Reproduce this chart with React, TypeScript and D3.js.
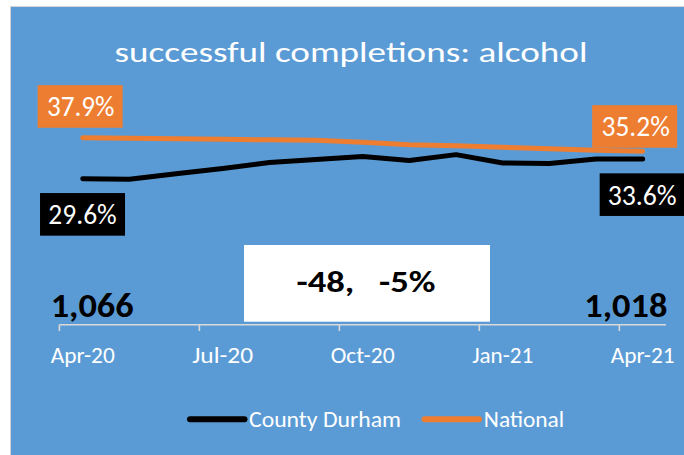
import React from 'react';
import * as d3 from 'd3';

const months = ['Apr-20','May-20','Jun-20','Jul-20','Aug-20','Sep-20','Oct-20','Nov-20','Dec-20','Jan-21','Feb-21','Mar-21','Apr-21'];
const durham = [29.6, 29.5, 30.6, 31.7, 32.9, 33.5, 34.1, 33.3, 34.5, 32.8, 32.7, 33.6, 33.6];
const national = [37.9, 37.8, 37.7, 37.6, 37.5, 37.4, 37.0, 36.5, 36.3, 36.0, 35.7, 35.4, 35.2];
const tickLabels = ['Apr-20', 'Jul-20', 'Oct-20', 'Jan-21', 'Apr-21'];
const seriesNames = ['County Durham', 'National'];
const title = 'successful completions: alcohol';
const startCount = '1,066';
const endCount = '1,018';
const changeText = '-48,   -5%';

const W = 684;
const H = 455;
const BLUE = '#5B9BD5';
const ORANGE = '#ED7D31';
const FONT = 'Carlito, Lato, "Open Sans", sans-serif';

export default function App() {
  const x = d3.scaleBand<string>().domain(months).range([59.4, 666]).padding(0);
  const bw = x.bandwidth();
  const px = (m: string) => (x(m) as number) + bw / 2;
  const y = d3.scaleLinear().domain([0, 50]).range([324.7, 78.2]);

  const line = d3.line<number>()
    .x((_, i) => px(months[i]))
    .y((d) => y(d));

  const n = months.length;
  const x0 = px(months[0]);
  const xN = px(months[n - 1]);

  const fmt = (v: number) => v.toFixed(1) + '%';

  const boxW = 85;
  const boxH = 42.6;

  const labelBox = (cx: number, top: number, fill: string, text: string, tcx: number, baseline: number, tl: number) => (
    <g>
      <rect x={cx - boxW / 2} y={top} width={boxW} height={boxH} fill={fill} />
      <text x={tcx} y={baseline} textAnchor="middle" fill="#fff" fontSize={28} fontFamily={FONT}
        textLength={tl} lengthAdjust="spacingAndGlyphs">{text}</text>
    </g>
  );

  const tickIdx = [0, 3, 6, 9, 12];

  return (
    <div style={{ position: 'fixed', left: 0, top: 0, width: W, height: H, background: '#fff' }}>
      <svg width={W} height={H} style={{ display: 'block' }}>
        <rect x={10.5} y={6.5} width={W} height={H} fill={BLUE} stroke="#D4D4D4" strokeWidth={1} />
        <text x={351} y={61.7} textAnchor="middle" fill="#fff" fontSize={28} fontFamily={FONT}
          textLength={473} lengthAdjust="spacingAndGlyphs">{title}</text>

        {/* axis */}
        <line x1={59.4} x2={666} y1={324.7} y2={324.7} stroke="#D9D9D9" strokeWidth={1.6} />
        {tickIdx.map((i) => (
          <line key={'t' + i} x1={x(months[i]) as number} x2={x(months[i]) as number} y1={324.7} y2={331}
            stroke="#D9D9D9" strokeWidth={1.6} />
        ))}
        {tickLabels.map((t) => (
          <text key={t} x={px(t)} y={363.3} textAnchor="middle" fill="#fff" fontSize={22} fontFamily={FONT}
            textLength={t.startsWith('J') ? 61 : 64} lengthAdjust="spacingAndGlyphs">{t}</text>
        ))}

        {/* change box */}
        <rect x={244} y={245} width={246} height={76.7} fill="#fff" />
        <text x={366} y={291.7} textAnchor="middle" fill="#000" fontSize={31} fontWeight="bold" fontFamily={FONT}
          textLength={139} lengthAdjust="spacingAndGlyphs" style={{ whiteSpace: 'pre' }}>{changeText}</text>

        <text x={50.7} y={317.3} fill="#000" fontSize={35} fontWeight="bold" fontFamily={FONT}
          textLength={83} lengthAdjust="spacingAndGlyphs">{startCount}</text>
        <text x={584.3} y={317.3} fill="#000" fontSize={35} fontWeight="bold" fontFamily={FONT}
          textLength={83} lengthAdjust="spacingAndGlyphs">{endCount}</text>

        {/* lines */}
        <path d={line(national) || ''} fill="none" stroke={ORANGE} strokeWidth={5} strokeLinecap="round" strokeLinejoin="round" />
        <path d={line(durham) || ''} fill="none" stroke="#000" strokeWidth={5} strokeLinecap="round" strokeLinejoin="round" />

        {/* data labels */}
        {labelBox(x0 - 2.6, y(national[0]) - 52.7, ORANGE, fmt(national[0]), x0 - 2, y(national[0]) - 22.2, 67.4)}
        {labelBox(xN - 8, y(national[n - 1]) - 46, ORANGE, fmt(national[n - 1]), xN - 7, y(national[n - 1]) - 15.3, 68.3)}
        {labelBox(x0 - 0.2, y(durham[0]) + 14.3, '#000', fmt(durham[0]), x0 - 0.2, y(durham[0]) + 45.6, 68.4)}
        {labelBox(xN - 0.5, y(durham[n - 1]) + 14.3, '#000', fmt(durham[n - 1]), xN - 0.5, y(durham[n - 1]) + 46, 69)}

        {/* legend */}
        <line x1={190} x2={244.5} y1={419.3} y2={419.3} stroke="#000" strokeWidth={6} strokeLinecap="round" />
        <text x={249} y={426.7} fill="#fff" fontSize={23} fontFamily={FONT} textLength={152} lengthAdjust="spacingAndGlyphs">{seriesNames[0]}</text>
        <line x1={424.5} x2={479} y1={419.3} y2={419.3} stroke={ORANGE} strokeWidth={6} strokeLinecap="round" />
        <text x={483.8} y={426.7} fill="#fff" fontSize={23} fontFamily={FONT} textLength={80.4} lengthAdjust="spacingAndGlyphs">{seriesNames[1]}</text>
      </svg>
    </div>
  );
}
